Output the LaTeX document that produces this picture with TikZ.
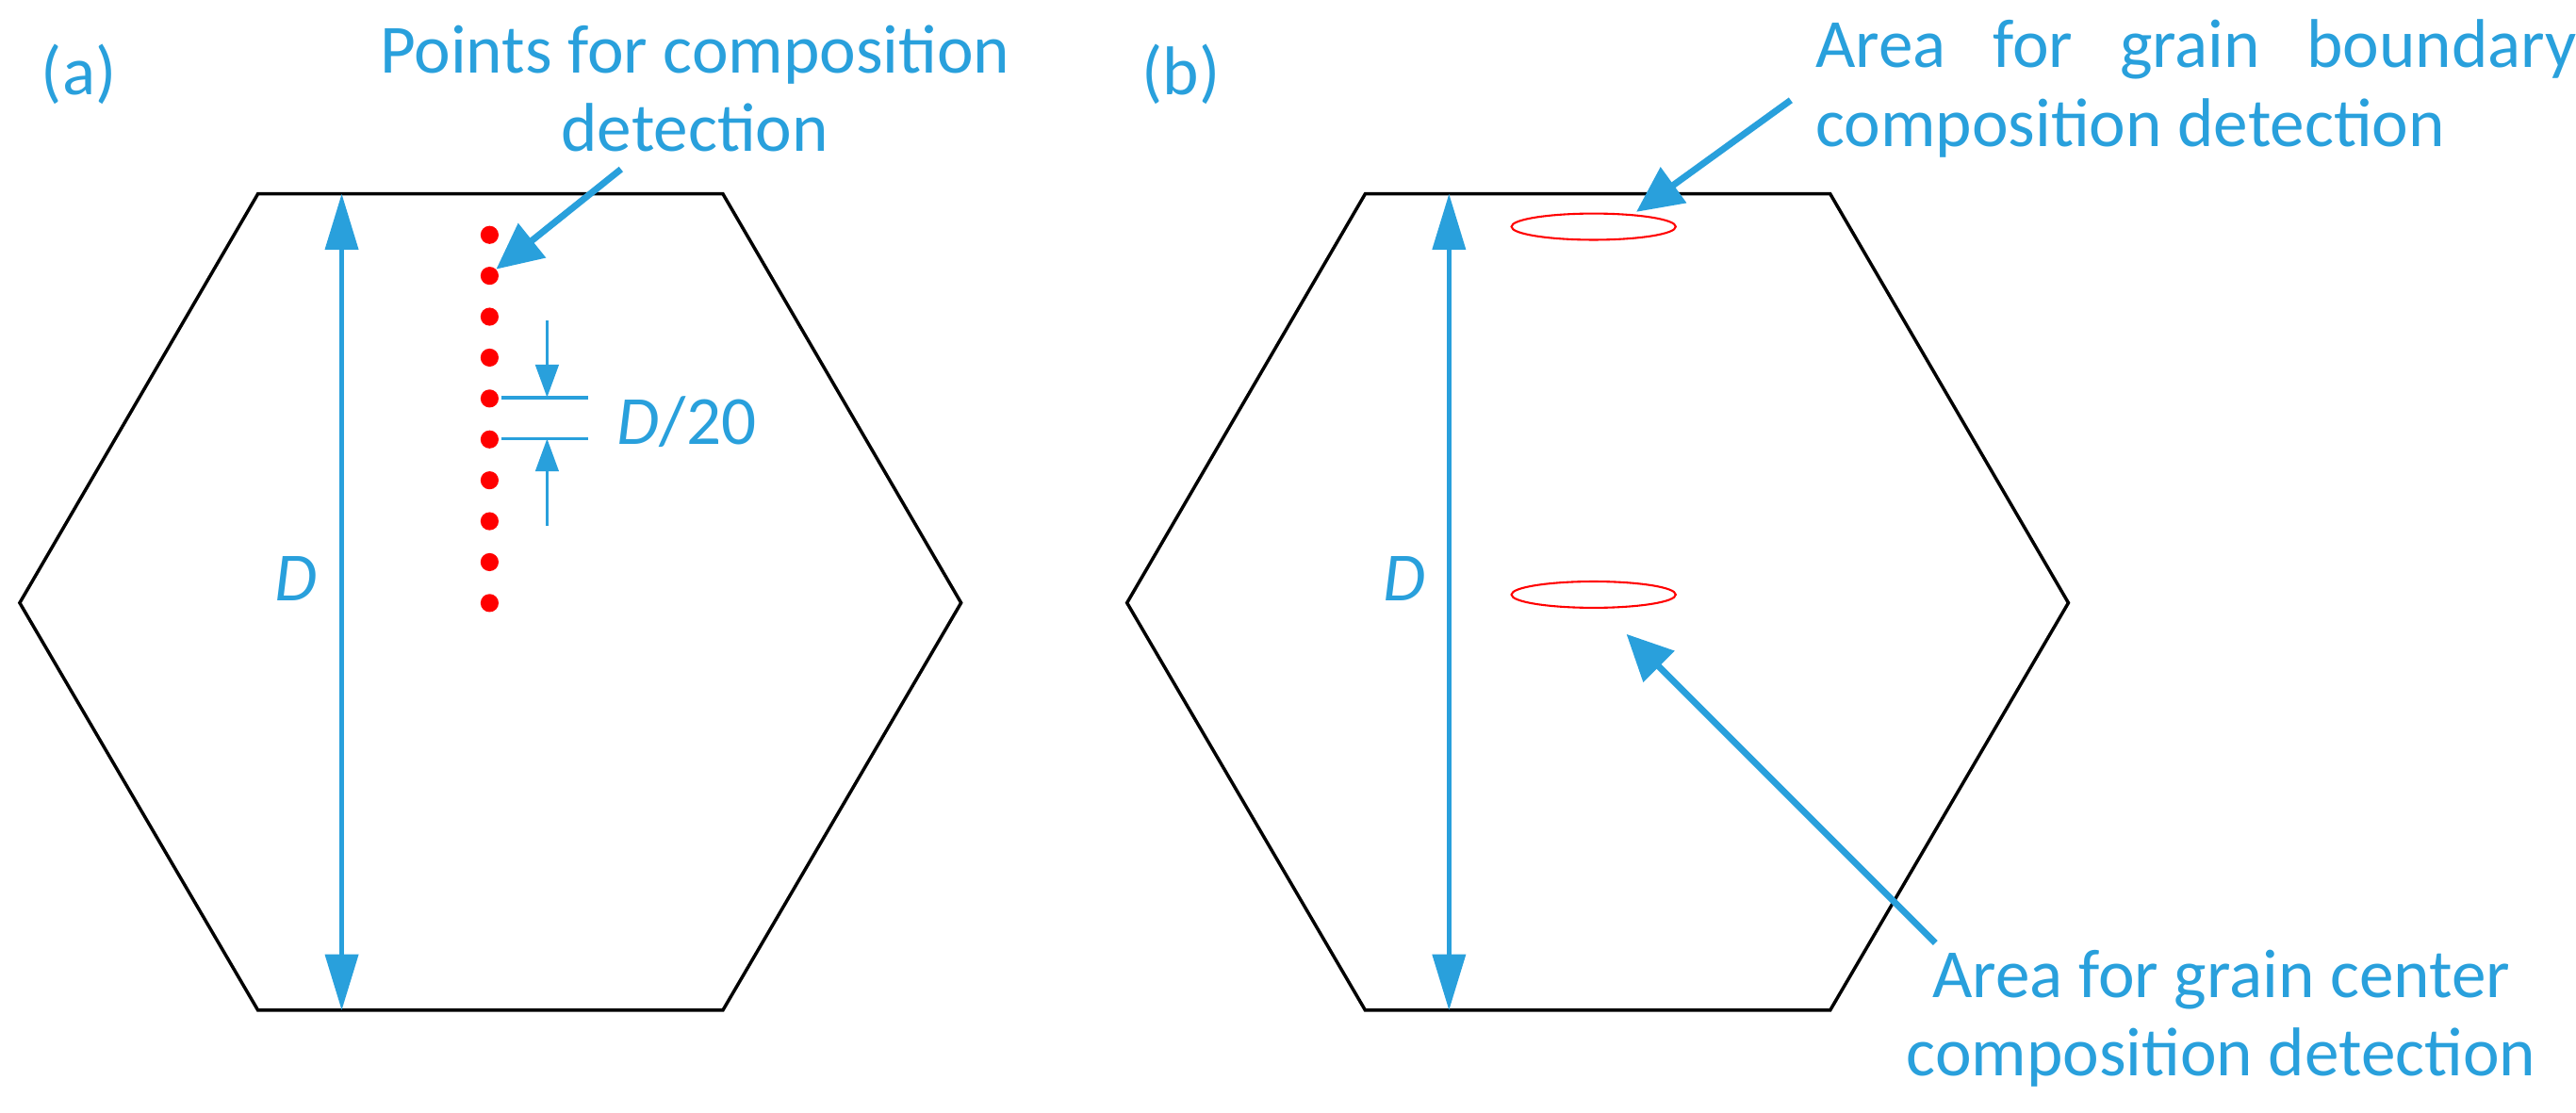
\documentclass[tikz,border=0pt]{standalone}
\usepackage{fontspec}
\setmainfont{Carlito}
\usetikzlibrary{arrows.meta}
\definecolor{cb}{HTML}{29A0DC}
\begin{document}
\begin{tikzpicture}[x=1pt,y=-1pt,
  hex/.style={draw=black,line width=2pt},
  dim/.style={draw=cb,line width=2.5pt,{Triangle[length=34pt,width=20pt]}-{Triangle[length=34pt,width=20pt]}},
  pt/.style={draw=cb,line width=4pt,-{Triangle[length=28pt,width=26pt]}},
  small/.style={draw=cb,line width=2pt,-{Triangle[length=20pt,width=14pt]}},
  lab/.style={text=cb,font=\fontsize{42}{48}\selectfont,align=center,inner sep=0pt},
  dot/.style={circle,fill=red,inner sep=0pt,minimum size=11pt},
  ell/.style={draw=red,line width=1.2pt}]
\useasboundingbox (0,0) rectangle (1568,677);
% (a)
\draw[hex] (157,118)--(440,118)--(585,367)--(440,615)--(157,615)--(12,367)--cycle;
\coordinate (at) at (208,118); \coordinate (ab) at (208,615);
\draw[dim] (at)--(ab);
\node[lab,font=\fontsize{42}{48}\selectfont\itshape] (da) at (180,352) {D};
\node[lab] (la) at (48,45) {(a)};
\foreach \i in {0,...,9}{\node[dot] (p\i) at (298,{143+\i*24.9}) {};}
\coordinate (h1a) at (305,242); \coordinate (h1b) at (358,242);
\coordinate (h2a) at (305,267); \coordinate (h2b) at (358,267);
\draw[cb,line width=2pt] (h1a)--(h1b) (h2a)--(h2b);
\coordinate (s1) at (333,195); \coordinate (e1) at (333,242);
\coordinate (s2) at (333,320); \coordinate (e2) at (333,267);
\draw[small] (s1)--(e1);
\draw[small] (s2)--(e2);
\node[lab] (d20) at (418,257) {\textit{D}/20};
\node[lab] (ta) at (423,54) {Points for composition\\detection};
\coordinate (ta1) at (378,103);
\draw[pt] (ta1)--(p1.north east);
% (b)
\draw[hex] (831,118)--(1114,118)--(1259,367)--(1114,615)--(831,615)--(686,367)--cycle;
\coordinate (bt) at (882,118); \coordinate (bb) at (882,615);
\draw[dim] (bt)--(bb);
\node[lab,font=\fontsize{42}{48}\selectfont\itshape] (db) at (855,352) {D};
\node[lab] (lb) at (719,45) {(b)};
\draw[ell] (970,138) ellipse [x radius=50,y radius=8];
\draw[ell] (970,362) ellipse [x radius=50,y radius=8];
\coordinate (e1t) at (996,129); \coordinate (e2b) at (990,386);
\node[lab,align=left,anchor=west] (tb) at (1105,54) {Area\ \ \ for\ \ \ grain\ \ \ boundary\\composition detection};
\node[lab] (tc) at (1352,620) {Area for grain center\\composition detection};
\coordinate (tb1) at (1090,61); \coordinate (tc1) at (1178,574);
\draw[pt] (tb1)--(e1t);
\draw[pt] (tc1)--(e2b);
\end{tikzpicture}
\end{document}
